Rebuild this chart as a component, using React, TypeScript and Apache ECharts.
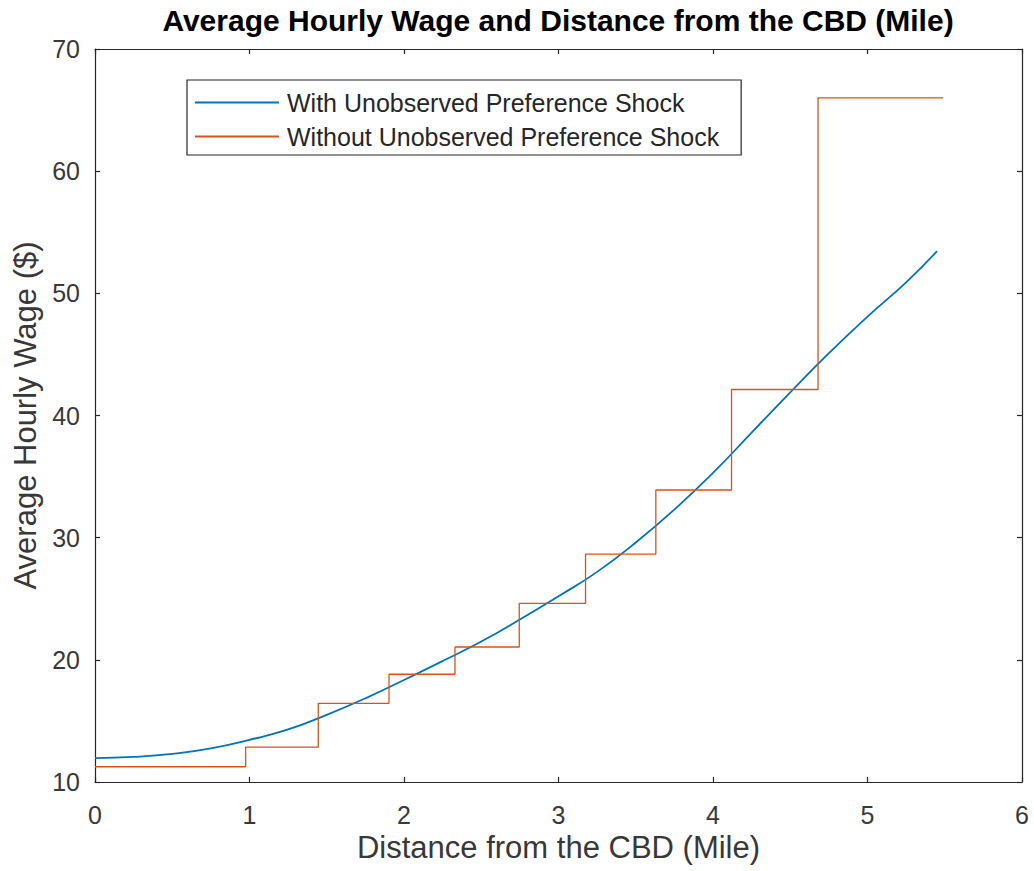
import React, { useEffect, useRef } from "react";
import * as echarts from "echarts";

const titleText = "Average Hourly Wage and Distance from the CBD (Mile)";
const xName = "Distance from the CBD (Mile)";
const yName = "Average Hourly Wage ($)";
const seriesNames = ["With Unobserved Preference Shock", "Without Unobserved Preference Shock"];

// Smooth curve: with unobserved preference shock
const curveX = [0, 0.25, 0.5, 0.75, 1.0, 1.25, 1.5, 1.75, 2.0, 2.25, 2.5, 2.75, 3.0, 3.25, 3.5, 3.75, 4.0, 4.25, 4.5, 4.75, 5.0, 5.25, 5.45];
const curveY = [11.95, 12.05, 12.3, 12.75, 13.45, 14.3, 15.5, 16.85, 18.35, 19.9, 21.5, 23.3, 25.2, 27.2, 29.6, 32.3, 35.3, 38.6, 41.9, 45.1, 48.1, 50.9, 53.45];

// Step function: without unobserved preference shock (level starts at each x)
const stepX = [0, 0.975, 1.445, 1.903, 2.33, 2.746, 3.175, 3.63, 4.12, 4.68, 5.49];
const stepY = [11.25, 12.85, 16.44, 18.82, 21.05, 24.62, 28.66, 33.9, 42.13, 66.0, 66.0];

const xTicks = { min: 0, max: 6, interval: 1 };
const yTicks = { min: 10, max: 70, interval: 10 };

const FONT = 'Arial, "Liberation Sans", Helvetica, sans-serif';
const AXIS_COLOR = "#262626";
const LABEL_COLOR = "#383838";

export default function App() {
  const ref = useRef<HTMLDivElement>(null);
  useEffect(() => {
    if (!ref.current) return;
    const chart = echarts.init(ref.current, undefined, { renderer: "svg" });
    const axisCommon = {
      axisLine: { show: true, onZero: false, lineStyle: { color: AXIS_COLOR, width: 1.2 } },
      axisTick: { show: true, inside: true, length: 5, lineStyle: { color: AXIS_COLOR, width: 1.2 } },
      splitLine: { show: false },
    };
    chart.setOption({
      animation: false,
      backgroundColor: "#ffffff",
      textStyle: { fontFamily: FONT },
      title: {
        text: titleText,
        left: 553,
        textAlign: "center",
        top: 0,
        textStyle: { fontFamily: FONT, fontWeight: "bold", fontSize: 30, color: "#000000" },
      },
      legend: {
        orient: "vertical",
        left: 187,
        top: 80,
        padding: [10, 22, 6, 8],
        itemGap: 9,
        itemWidth: 84,
        itemHeight: 2,
        icon: "rect",
        backgroundColor: "#ffffff",
        borderColor: AXIS_COLOR,
        borderWidth: 1.2,
        borderRadius: 0,
        textStyle: { fontFamily: FONT, fontSize: 25, color: "#262626", padding: [0, 0, 0, 3] },
        data: seriesNames,
      },
      grid: { left: 95, top: 49, width: 927, height: 733, containLabel: false },
      xAxis: [
        {
          type: "value",
          position: "bottom",
          ...xTicks,
          ...axisCommon,
          name: xName,
          nameLocation: "middle",
          nameGap: 46,
          nameTextStyle: { fontFamily: FONT, fontSize: 31, color: LABEL_COLOR },
          axisLabel: { fontFamily: FONT, fontSize: 25, color: LABEL_COLOR, margin: 20 },
        },
        {
          type: "value",
          position: "top",
          ...xTicks,
          ...axisCommon,
          axisLabel: { show: false },
        },
      ],
      yAxis: [
        {
          type: "value",
          position: "left",
          ...yTicks,
          ...axisCommon,
          name: yName,
          nameLocation: "middle",
          nameGap: 53,
          nameTextStyle: { fontFamily: FONT, fontSize: 31, color: LABEL_COLOR },
          axisLabel: { fontFamily: FONT, fontSize: 25, color: LABEL_COLOR, margin: 15 },
        },
        {
          type: "value",
          position: "right",
          ...yTicks,
          ...axisCommon,
          axisLabel: { show: false },
        },
      ],
      series: [
        {
          name: seriesNames[0],
          type: "line",
          data: curveX.map((x, i) => [x, curveY[i]]),
          smooth: 0.5,
          symbol: "none",
          lineStyle: { color: "#0072BD", width: 1.8 },
          itemStyle: { color: "#0072BD" },
        },
        {
          name: seriesNames[1],
          type: "line",
          data: stepX.map((x, i) => [x, stepY[i]]),
          step: "end",
          symbol: "none",
          lineStyle: { color: "#D95319", width: 1.3 },
          itemStyle: { color: "#D95319" },
        },
      ],
    });
    return () => chart.dispose();
  }, []);
  return <div ref={ref} style={{ position: "absolute", left: 0, top: 0, width: 1034, height: 871 }} />;
}
